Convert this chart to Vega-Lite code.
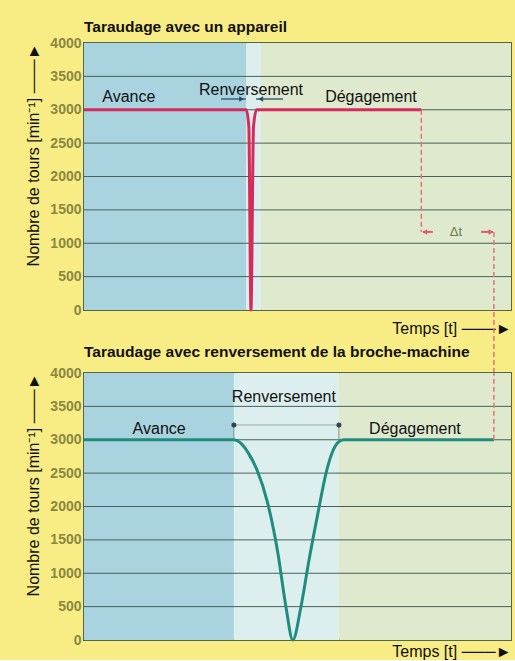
{
  "$schema": "https://vega.github.io/schema/vega-lite/v6.json",
  "background": "#f8ec85",
  "padding": {"left": 24, "top": 18, "right": 5, "bottom": 0},
  "bounds": "flush",
  "spacing": 63,
  "config": {
    "font": "Liberation Sans",
    "view": {"stroke": "#56683f", "strokeWidth": 2},
    "title": {"anchor": "start", "frame": "group", "fontSize": 15.5, "fontWeight": "bold", "color": "#111111"},
    "axisY": {
      "labelFont": "Liberation Sans", "labelFontWeight": "bold", "labelFontSize": 14, "labelColor": "#8a8840",
      "labelPadding": 3, "ticks": false, "domain": false, "grid": false,
      "titleFontWeight": "normal", "titleFontSize": 16, "titleColor": "#111111", "titleAnchor": "end", "titlePadding": 8
    },
    "axisX": {
      "labels": false, "ticks": false, "domain": false, "grid": false,
      "titleFontWeight": "normal", "titleFontSize": 16, "titleColor": "#111111", "titleAnchor": "end", "titlePadding": 10
    }
  },
  "datasets": {
    "zones1": [
      {"t": 0, "t2": 38, "zone": "avance"},
      {"t": 38, "t2": 41.5, "zone": "renversement"},
      {"t": 41.5, "t2": 100, "zone": "degagement"}
    ],
    "zones2": [
      {"t": 0, "t2": 35.1, "zone": "avance"},
      {"t": 35.1, "t2": 59.8, "zone": "renversement"},
      {"t": 59.8, "t2": 100, "zone": "degagement"}
    ],
    "grid": [
      {"v": 500}, {"v": 1000}, {"v": 1500}, {"v": 2000}, {"v": 2500}, {"v": 3000}, {"v": 3500}
    ],
    "line1": [
      {"t": 0, "v": 3000}, {"t": 38.0, "v": 3000}, {"t": 38.6, "v": 2750}, {"t": 39.1, "v": 0},
      {"t": 39.7, "v": 2750}, {"t": 40.4, "v": 3000}, {"t": 79, "v": 3000}
    ],
    "line2": [
      {"t": 0, "v": 3000}, {"t": 35, "v": 3000}, {"t": 36.5, "v": 2960}, {"t": 38.5, "v": 2800},
      {"t": 40.5, "v": 2550}, {"t": 43, "v": 2055}, {"t": 45.4, "v": 1305}, {"t": 47.3, "v": 495},
      {"t": 48.9, "v": 0}, {"t": 50.8, "v": 495}, {"t": 52.7, "v": 1200}, {"t": 54.8, "v": 1905},
      {"t": 56.7, "v": 2505}, {"t": 58.2, "v": 2820}, {"t": 59.5, "v": 2960}, {"t": 60.8, "v": 3000},
      {"t": 96, "v": 3000}
    ],
    "dash1": [
      {"t": 79, "v": 3000, "v2": 1170},
      {"t": 96, "v": 1170, "v2": -950}
    ],
    "dash2": [
      {"t": 96, "v": 3000, "v2": 4000}
    ],
    "dtSegs": [
      {"t": 79.4, "t2": 81.7, "v": 1170},
      {"t": 93, "t2": 95.8, "v": 1170}
    ],
    "dtLeft": [{"t": 79.8, "v": 1170}],
    "dtRight": [{"t": 95.3, "v": 1170}],
    "dtText": [{"t": 87.1, "v": 1170, "label": "Δt"}],
    "revSegs1": [
      {"t": 32.1, "t2": 37.9, "v": 3161},
      {"t": 40.3, "t2": 46.6, "v": 3161}
    ],
    "revRight1": [{"t": 36.9, "v": 3161}],
    "revLeft1": [{"t": 41.4, "v": 3161}],
    "labels1": [
      {"t": 10.5, "v": 3116, "label": "Avance"},
      {"t": 39.1, "v": 3221, "label": "Renversement"},
      {"t": 67.2, "v": 3116, "label": "Dégagement"}
    ],
    "labels2": [
      {"t": 17.6, "v": 3086, "label": "Avance"},
      {"t": 46.8, "v": 3566, "label": "Renversement"},
      {"t": 77.5, "v": 3086, "label": "Dégagement"}
    ],
    "dim2": [{"t": 35.1, "t2": 59.7, "v": 3221}],
    "dim2ends": [
      {"t": 35.1, "v": 3221, "v2": 3000},
      {"t": 59.7, "v": 3221, "v2": 3000}
    ]
  },
  "vconcat": [
    {
      "width": 427,
      "height": 267,
      "title": {"text": "Taraudage avec un appareil", "offset": 1},
      "layer": [
        {
          "data": {"name": "zones1"},
          "mark": {"type": "rect"},
          "encoding": {
            "x": {"field": "t", "type": "quantitative", "scale": {"domain": [0, 100], "nice": false, "zero": false}, "axis": {"title": "Temps  [t]  ───►"}},
            "x2": {"field": "t2"},
            "color": {"field": "zone", "type": "nominal", "legend": null,
              "scale": {"domain": ["avance", "renversement", "degagement"], "range": ["#a8d3df", "#dcefee", "#dfe9cd"]}}
          }
        },
        {
          "data": {"name": "grid"},
          "mark": {"type": "rule", "color": "#46625a", "strokeWidth": 1},
          "encoding": {
            "y": {"field": "v", "type": "quantitative", "scale": {"domain": [0, 4000], "nice": false},
              "axis": {"title": "Nombre de tours  [min⁻¹]  ───►", "values": [0, 500, 1000, 1500, 2000, 2500, 3000, 3500, 4000],
                "tickCount": 9, "labelOverlap": false, "labelSeparation": 0, "format": ".0f"}}
          }
        },
        {
          "data": {"name": "line1"},
          "mark": {"type": "line", "color": "#d42b5c", "strokeWidth": 3, "interpolate": "monotone"},
          "encoding": {
            "x": {"field": "t", "type": "quantitative"},
            "y": {"field": "v", "type": "quantitative"}
          }
        },
        {
          "data": {"name": "dash1"},
          "mark": {"type": "rule", "color": "#e8707c", "strokeWidth": 1.5, "strokeDash": [5, 3]},
          "encoding": {
            "x": {"field": "t", "type": "quantitative"},
            "y": {"field": "v", "type": "quantitative"},
            "y2": {"field": "v2"}
          }
        },
        {
          "data": {"name": "dtSegs"},
          "mark": {"type": "rule", "color": "#e05a6e", "strokeWidth": 2},
          "encoding": {
            "x": {"field": "t", "type": "quantitative"},
            "x2": {"field": "t2"},
            "y": {"field": "v", "type": "quantitative"}
          }
        },
        {
          "data": {"name": "dtLeft"},
          "mark": {"type": "point", "shape": "triangle-left", "filled": true, "color": "#e05a6e", "size": 30, "opacity": 1},
          "encoding": {"x": {"field": "t", "type": "quantitative"}, "y": {"field": "v", "type": "quantitative"}}
        },
        {
          "data": {"name": "dtRight"},
          "mark": {"type": "point", "shape": "triangle-right", "filled": true, "color": "#e05a6e", "size": 30, "opacity": 1},
          "encoding": {"x": {"field": "t", "type": "quantitative"}, "y": {"field": "v", "type": "quantitative"}}
        },
        {
          "data": {"name": "dtText"},
          "mark": {"type": "text", "fontSize": 13, "color": "#6b7a55", "baseline": "middle", "align": "center"},
          "encoding": {"x": {"field": "t", "type": "quantitative"}, "y": {"field": "v", "type": "quantitative"}, "text": {"field": "label"}}
        },
        {
          "data": {"name": "revSegs1"},
          "mark": {"type": "rule", "color": "#3c6080", "strokeWidth": 1.5},
          "encoding": {
            "x": {"field": "t", "type": "quantitative"},
            "x2": {"field": "t2"},
            "y": {"field": "v", "type": "quantitative"}
          }
        },
        {
          "data": {"name": "revRight1"},
          "mark": {"type": "point", "shape": "triangle-right", "filled": true, "color": "#2a4a66", "size": 30, "opacity": 1},
          "encoding": {"x": {"field": "t", "type": "quantitative"}, "y": {"field": "v", "type": "quantitative"}}
        },
        {
          "data": {"name": "revLeft1"},
          "mark": {"type": "point", "shape": "triangle-left", "filled": true, "color": "#2a4a66", "size": 30, "opacity": 1},
          "encoding": {"x": {"field": "t", "type": "quantitative"}, "y": {"field": "v", "type": "quantitative"}}
        },
        {
          "data": {"name": "labels1"},
          "mark": {"type": "text", "fontSize": 16, "color": "#111111", "baseline": "alphabetic", "align": "center"},
          "encoding": {"x": {"field": "t", "type": "quantitative"}, "y": {"field": "v", "type": "quantitative"}, "text": {"field": "label"}}
        }
      ]
    },
    {
      "width": 427,
      "height": 267,
      "title": {"text": "Taraudage avec renversement de la broche-machine", "offset": 6},
      "layer": [
        {
          "data": {"name": "zones2"},
          "mark": {"type": "rect"},
          "encoding": {
            "x": {"field": "t", "type": "quantitative", "scale": {"domain": [0, 100], "nice": false, "zero": false}, "axis": {"title": "Temps  [t]  ───►", "titlePadding": 3}},
            "x2": {"field": "t2"},
            "color": {"field": "zone", "type": "nominal", "legend": null,
              "scale": {"domain": ["avance", "renversement", "degagement"], "range": ["#a6d2de", "#e3f1f1", "#e1ebcd"]}}
          }
        },
        {
          "data": {"name": "grid"},
          "mark": {"type": "rule", "color": "#46625a", "strokeWidth": 1},
          "encoding": {
            "y": {"field": "v", "type": "quantitative", "scale": {"domain": [0, 4000], "nice": false},
              "axis": {"title": "Nombre de tours  [min⁻¹]  ───►", "values": [0, 500, 1000, 1500, 2000, 2500, 3000, 3500, 4000],
                "tickCount": 9, "labelOverlap": false, "labelSeparation": 0, "format": ".0f"}}
          }
        },
        {
          "data": {"name": "dim2"},
          "mark": {"type": "rule", "color": "#b9cccc", "strokeWidth": 2},
          "encoding": {
            "x": {"field": "t", "type": "quantitative"},
            "x2": {"field": "t2"},
            "y": {"field": "v", "type": "quantitative"}
          }
        },
        {
          "data": {"name": "dim2ends"},
          "mark": {"type": "rule", "color": "#7f8f8f", "strokeWidth": 1},
          "encoding": {
            "x": {"field": "t", "type": "quantitative"},
            "y": {"field": "v", "type": "quantitative"},
            "y2": {"field": "v2"}
          }
        },
        {
          "data": {"name": "dim2ends"},
          "mark": {"type": "point", "shape": "circle", "filled": true, "color": "#34444f", "size": 25, "opacity": 1},
          "encoding": {"x": {"field": "t", "type": "quantitative"}, "y": {"field": "v", "type": "quantitative"}}
        },
        {
          "data": {"name": "line2"},
          "mark": {"type": "line", "color": "#1f8c7d", "strokeWidth": 3, "interpolate": "monotone"},
          "encoding": {
            "x": {"field": "t", "type": "quantitative"},
            "y": {"field": "v", "type": "quantitative"}
          }
        },
        {
          "data": {"name": "dash2"},
          "mark": {"type": "rule", "color": "#e8707c", "strokeWidth": 1.5, "strokeDash": [5, 3]},
          "encoding": {
            "x": {"field": "t", "type": "quantitative"},
            "y": {"field": "v", "type": "quantitative"},
            "y2": {"field": "v2"}
          }
        },
        {
          "data": {"name": "labels2"},
          "mark": {"type": "text", "fontSize": 16, "color": "#111111", "baseline": "alphabetic", "align": "center"},
          "encoding": {"x": {"field": "t", "type": "quantitative"}, "y": {"field": "v", "type": "quantitative"}, "text": {"field": "label"}}
        }
      ]
    }
  ]
}
